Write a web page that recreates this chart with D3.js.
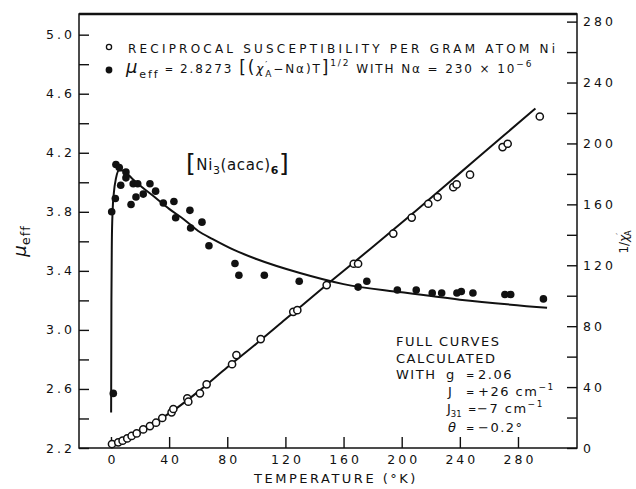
<!DOCTYPE html>
<html>
<head>
<meta charset="utf-8">
<script src="https://cdn.jsdelivr.net/npm/d3@7"></script>
<style>
  body { margin: 0; background: #fff; }
  svg { display: block; }
  text { font-family: "DejaVu Sans", sans-serif; fill: #111; }
  .axis text { font-size: 12.5px; letter-spacing: 3px; }
  .axis line { stroke: #111; stroke-width: 1.4; }
  .axis path { display: none; }
</style>
</head>
<body>
<div id="chart"></div>
<script>
// measured points, mu_eff (left axis)
var muTemp = [0.5, 1.6, 3, 3.4, 5.7, 6.7, 10.3, 10.3, 13.8, 15.3, 17.2, 18.4, 22.2, 26.8, 30.7, 36, 43.3, 44.5, 54.3, 54.8, 62.6, 67.4, 85.3, 88, 105.5, 129.5, 170, 176, 197, 210, 221, 227.5, 238, 241, 249, 271, 275, 297.5];
var muValues = [3.80, 2.57, 3.89, 4.12, 4.10, 3.98, 4.07, 4.03, 3.85, 3.99, 3.90, 3.99, 3.92, 3.99, 3.94, 3.86, 3.87, 3.76, 3.81, 3.69, 3.73, 3.57, 3.45, 3.37, 3.37, 3.33, 3.29, 3.33, 3.27, 3.27, 3.25, 3.25, 3.25, 3.26, 3.25, 3.24, 3.24, 3.21];

// measured points, 1/chi (right axis)
var recTemp = [0.7, 5, 8, 11.2, 14.2, 17.7, 22.2, 26.8, 31, 35.3, 41.7, 42.9, 52.5, 53.2, 61.2, 65.8, 83.3, 86.3, 103, 125.4, 128.2, 148.4, 167, 170, 194.2, 206.9, 218.3, 224.7, 235.5, 237.8, 247, 269.4, 272.9, 295];
var recValues = [2.6, 3.7, 4.8, 6.3, 7.9, 9.6, 12.2, 14.4, 16.6, 19.7, 23.4, 25.6, 32.6, 30.4, 35.9, 41.8, 55, 61, 71.5, 89.4, 90.5, 107, 121, 121, 140.8, 151.3, 160.4, 164.8, 171.3, 173.1, 179.5, 197.6, 199.8, 217.7];

// calculated curves
var muCalcTemp = [0.1, 0.3, 0.6, 1.1, 2, 3.5, 5.5, 8, 11, 15, 21, 30, 40, 50, 60, 70, 85, 100, 130, 160, 200, 240, 300];
var muCalcValues = [2.44, 3.2, 3.6, 3.8, 3.93, 4.03, 4.08, 4.08, 4.06, 4.02, 3.97, 3.9, 3.82, 3.75, 3.67, 3.615, 3.54, 3.48, 3.385, 3.31, 3.255, 3.205, 3.15];
var recCalcTemp = [0, 10, 20, 30, 45, 60, 80, 100, 120, 150, 180, 210, 240, 270, 292];
var recCalcValues = [0.5, 5, 10.5, 16.5, 26, 37, 53, 68.5, 84.5, 108.5, 132, 156, 180.5, 205, 223];

var xTicks = [0, 40, 80, 120, 160, 200, 240, 280];
var muTicks = [2.2, 2.6, 3.0, 3.4, 3.8, 4.2, 4.6, 5.0];
var muMinor = [2.4, 2.8, 3.2, 3.6, 4.0, 4.4, 4.8];
var recTicks = [0, 40, 80, 120, 160, 200, 240, 280];
var recMinor = [20, 60, 100, 140, 180, 220, 260];

var width = 636, height = 489;
var plot = {left: 79, right: 577, top: 14, bottom: 448};

var svg = d3.select("#chart").append("svg")
    .attr("width", width)
    .attr("height", height);

var x = d3.scaleLinear().domain([-22, 320.6]).range([plot.left, plot.right]);
var yMu = d3.scaleLinear().domain([2.2, 5.14]).range([plot.bottom, plot.top]);
var yRec = d3.scaleLinear().domain([0, 285]).range([plot.bottom, plot.top]);

// frame
svg.append("rect")
    .attr("x", plot.left).attr("y", plot.top)
    .attr("width", plot.right - plot.left).attr("height", plot.bottom - plot.top)
    .attr("fill", "none").attr("stroke", "#111").attr("stroke-width", 1.5);
svg.append("line")
    .attr("x1", plot.left).attr("x2", plot.right)
    .attr("y1", plot.top).attr("y2", plot.top)
    .attr("stroke", "#111").attr("stroke-width", 2.5);

// axes, ticks point inwards
svg.append("g").attr("class", "axis")
    .attr("transform", "translate(" + plot.left + ",0)")
    .call(d3.axisLeft(yMu).tickValues(muTicks).tickFormat(d3.format(".1f")).tickSizeInner(-10).tickSizeOuter(0).tickPadding(4));
svg.append("g").attr("class", "axis")
    .attr("transform", "translate(" + plot.left + ",0)")
    .call(d3.axisLeft(yMu).tickValues(muMinor).tickFormat("").tickSizeInner(-10).tickSizeOuter(0));

svg.append("g").attr("class", "axis")
    .attr("transform", "translate(" + plot.right + ",0)")
    .call(d3.axisRight(yRec).tickValues(recTicks).tickFormat(d3.format("d")).tickSizeInner(-10).tickSizeOuter(0).tickPadding(6));
svg.append("g").attr("class", "axis")
    .attr("transform", "translate(" + plot.right + ",0)")
    .call(d3.axisRight(yRec).tickValues(recMinor).tickFormat("").tickSizeInner(-10).tickSizeOuter(0));

svg.append("g").attr("class", "axis")
    .attr("transform", "translate(0," + plot.bottom + ")")
    .call(d3.axisBottom(x).tickValues(xTicks).tickFormat(d3.format("d")).tickSizeInner(-11).tickSizeOuter(0).tickPadding(7))
  .selectAll("text").attr("dx", "1.5px");

// calculated curves
var muLine = d3.line().curve(d3.curveMonotoneX)
    .x(function(d, i) { return x(muCalcTemp[i]); })
    .y(function(d) { return yMu(d); });
var recLine = d3.line().curve(d3.curveMonotoneX)
    .x(function(d, i) { return x(recCalcTemp[i]); })
    .y(function(d) { return yRec(d); });

svg.append("path").attr("d", muLine(muCalcValues))
    .attr("fill", "none").attr("stroke", "#111").attr("stroke-width", 2);
svg.append("path").attr("d", recLine(recCalcValues))
    .attr("fill", "none").attr("stroke", "#111").attr("stroke-width", 2);

// measured points
svg.append("g").selectAll("circle")
    .data(recValues)
  .enter().append("circle")
    .attr("cx", function(d, i) { return x(recTemp[i]); })
    .attr("cy", function(d) { return yRec(d); })
    .attr("r", 3.6)
    .attr("fill", "#fff").attr("stroke", "#111").attr("stroke-width", 1.5);

svg.append("g").selectAll("circle")
    .data(muValues)
  .enter().append("circle")
    .attr("cx", function(d, i) { return x(muTemp[i]); })
    .attr("cy", function(d) { return yMu(d); })
    .attr("r", 3.8)
    .attr("fill", "#111");

// legend
svg.append("circle").attr("cx", 109).attr("cy", 47).attr("r", 2.6)
    .attr("fill", "none").attr("stroke", "#111").attr("stroke-width", 1.3);
svg.append("text").attr("x", 128).attr("y", 52.5)
    .attr("font-size", 12).attr("textLength", 427).attr("lengthAdjust", "spacing")
    .text("RECIPROCAL SUSCEPTIBILITY PER GRAM ATOM Ni");

svg.append("circle").attr("cx", 109).attr("cy", 70).attr("r", 3.4).attr("fill", "#111");
var leg2 = svg.append("text").attr("x", 126).attr("y", 73)
    .attr("font-size", 12).style("letter-spacing", "1.9px");
leg2.append("tspan").attr("font-size", 18).attr("font-style", "italic").text("μ");
leg2.append("tspan").attr("font-size", 11).attr("dy", 5).text("eff");
leg2.append("tspan").attr("dy", -5).attr("font-size", 10).text(" = ");
leg2.append("tspan").text("2.8273 ");
leg2.append("tspan").attr("font-size", 17).text("[(");
leg2.append("tspan").attr("font-style", "italic").text("χ");
leg2.append("tspan").attr("font-size", 9).attr("dy", -5).text("′");
leg2.append("tspan").attr("font-size", 9).attr("dx", -4).attr("dy", 9).text("A");
leg2.append("tspan").attr("dy", -4).text("−Nα)T");
leg2.append("tspan").attr("font-size", 17).text("]");
leg2.append("tspan").attr("font-size", 9).attr("dy", -7).text("1/2");
leg2.append("tspan").attr("dy", 7).text(" WITH  Nα = 230 × 10");
leg2.append("tspan").attr("font-size", 9).attr("dy", -6).text("−6");

// compound label
var comp = svg.append("text").attr("x", 186).attr("y", 172)
    .attr("font-size", 15).style("letter-spacing", "0.6px");
comp.append("tspan").attr("font-size", 25).text("[");
comp.append("tspan").attr("dy", -2).text("Ni");
comp.append("tspan").attr("font-size", 11).attr("dy", 4).text("3");
comp.append("tspan").attr("dy", -4).text("(acac)");
comp.append("tspan").attr("font-size", 11).attr("dy", 4).attr("font-weight", "bold").text("6");
comp.append("tspan").attr("font-size", 25).attr("dy", -2).text("]");

// calculation note
var note = svg.append("g").attr("font-size", 13).style("letter-spacing", "1.5px");
note.append("text").attr("x", 396).attr("y", 346).text("FULL CURVES");
note.append("text").attr("x", 396).attr("y", 362.5).text("CALCULATED");
note.append("text").attr("x", 396).attr("y", 379).text("WITH");
note.append("text").attr("x", 446).attr("y", 379).text("g");
note.append("text").attr("x", 448).attr("y", 396).text("J");
var j31 = note.append("text").attr("x", 447).attr("y", 412.5).style("letter-spacing", "0px");
j31.append("tspan").text("J");
j31.append("tspan").attr("font-size", 8.5).attr("dy", 4).text("31");
note.append("text").attr("x", 448).attr("y", 432).attr("font-style", "italic").text("θ");
[379, 396, 432].forEach(function(yy) {
  note.append("text").attr("x", 466).attr("y", yy).attr("font-size", 10).text("=");
});
note.append("text").attr("x", 468).attr("y", 412.5).attr("font-size", 10).text("=");
note.append("text").attr("x", 478).attr("y", 379).text("2.06");
var jv = note.append("text").attr("x", 478).attr("y", 396);
jv.append("tspan").text("+26 cm");
jv.append("tspan").attr("font-size", 9).attr("dy", -6).text("−1");
var j31v = note.append("text").attr("x", 477).attr("y", 412.5);
j31v.append("tspan").text("−7 cm");
j31v.append("tspan").attr("font-size", 9).attr("dy", -6).text("−1");
note.append("text").attr("x", 478).attr("y", 432).text("−0.2°");

// axis titles
svg.append("text").attr("transform", "translate(336,483)")
    .attr("text-anchor", "middle").attr("font-size", 13).style("letter-spacing", "2.5px")
    .text("TEMPERATURE (°K)");

var muTitle = svg.append("text").attr("transform", "translate(26,241) rotate(-90)")
    .attr("text-anchor", "middle").attr("font-size", 13);
muTitle.append("tspan").attr("font-size", 18).attr("font-style", "italic").text("μ");
muTitle.append("tspan").attr("dy", 4).style("letter-spacing", "1px").text("eff");

var recTitle = svg.append("text").attr("transform", "translate(628,242) rotate(-90)")
    .attr("text-anchor", "middle").attr("font-size", 12);
recTitle.append("tspan").text("1/");
recTitle.append("tspan").attr("font-style", "italic").text("χ");
recTitle.append("tspan").attr("font-size", 8).attr("dy", -5).text("′");
recTitle.append("tspan").attr("font-size", 8).attr("dx", -3).attr("dy", 8).text("A");
</script>
</body>
</html>
